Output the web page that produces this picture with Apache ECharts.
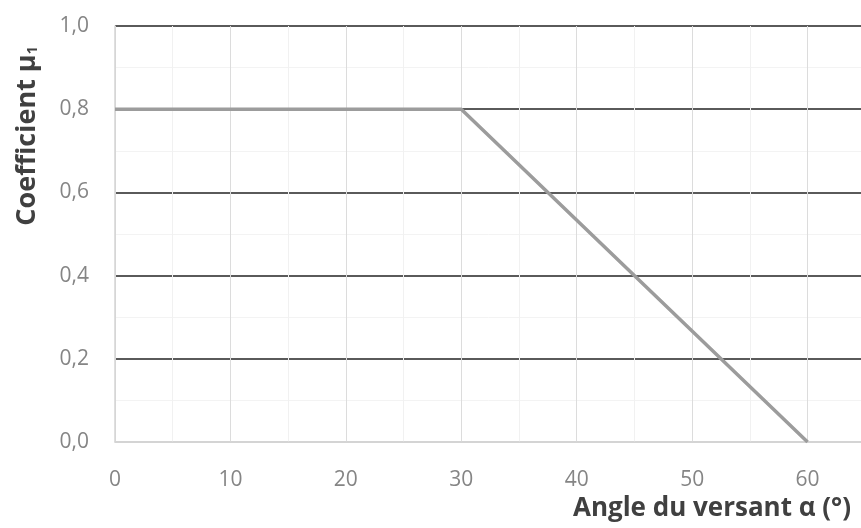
<!DOCTYPE html>
<html>
<head>
<meta charset="utf-8">
<script src="https://cdn.jsdelivr.net/npm/echarts@6/dist/echarts.min.js"></script>
<style>
  html, body { margin: 0; padding: 0; background: #fff; }
  #main { width: 861px; height: 528px; }
</style>
</head>
<body>
<div id="main"></div>
<script>
// courbe du coefficient de forme selon l'angle du versant
var angles = [0, 30, 60];
var coeffs = [0.8, 0.8, 0];
var xTicks = [0, 10, 20, 30, 40, 50, 60];
var yTicks = [0, 0.2, 0.4, 0.6, 0.8, 1.0];

var chart = echarts.init(document.getElementById('main'));

var option = {
  animation: false,
  backgroundColor: '#fff',
  grid: {
    left: 115,
    top: 26,
    bottom: 86,
    right: -62,
    containLabel: false,
    outerBoundsMode: 'none'
  },
  xAxis: {
    type: 'value',
    min: 0,
    max: 70,
    interval: 10,
    name: 'Angle du versant α (°)',
    nameLocation: 'middle',
    nameGap: 45,
    nameTextStyle: {
      fontFamily: 'Open Sans',
      fontWeight: 'bold',
      fontSize: 26,
      color: '#404040',
      padding: [0, 0, 0, 386]
    },
    axisLine: { show: true, lineStyle: { color: '#d4d4d4', width: 1.5 } },
    axisTick: { show: false },
    axisLabel: {
      margin: 28,
      fontFamily: 'Open Sans',
      fontSize: 21,
      color: '#858585',
      formatter: function (v) {
        return xTicks.indexOf(v) >= 0 ? String(v) : '';
      }
    },
    splitLine: { show: true, lineStyle: { color: '#dcdcdc', width: 1 } },
    minorTick: { show: false, splitNumber: 2 },
    minorSplitLine: { show: true, lineStyle: { color: '#f1f1f1', width: 1 } }
  },
  yAxis: {
    type: 'value',
    min: 0,
    max: 1,
    interval: 0.2,
    name: 'Coefficient μ{sub|1}',
    nameLocation: 'middle',
    nameGap: 74,
    nameRotate: 90,
    nameTextStyle: {
      fontFamily: 'Open Sans',
      fontWeight: 'bold',
      fontSize: 27,
      color: '#404040',
      padding: [0, 0, 0, 196],
      rich: {
        sub: {
          fontFamily: 'Open Sans',
          fontWeight: 'bold',
          fontSize: 14,
          color: '#404040',
          padding: [12, 0, 0, 0]
        }
      }
    },
    axisLine: { show: true, lineStyle: { color: '#d4d4d4', width: 1.5 } },
    axisTick: { show: false },
    axisLabel: {
      margin: 26,
      fontFamily: 'Open Sans',
      fontSize: 21,
      color: '#858585',
      formatter: function (v) {
        return v.toFixed(1).replace('.', ',');
      }
    },
    splitLine: {
      show: true,
      lineStyle: {
        color: ['#d4d4d4', '#5a5a5a', '#5a5a5a', '#5a5a5a', '#5a5a5a', '#5a5a5a'],
        width: 1.8
      }
    },
    minorTick: { show: false, splitNumber: 2 },
    minorSplitLine: { show: true, lineStyle: { color: '#f3f3f3', width: 1 } }
  },
  series: [
    {
      type: 'line',
      data: angles.map(function (a, i) { return [a, coeffs[i]]; }),
      showSymbol: false,
      lineStyle: { color: '#9c9c9c', width: 3.5 },
      z: 3
    }
  ]
};

chart.setOption(option);
</script>
</body>
</html>
